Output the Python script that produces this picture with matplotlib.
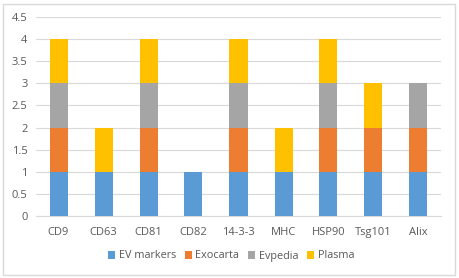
import matplotlib
matplotlib.use("Agg")
import matplotlib.pyplot as plt
import numpy as np

categorias = ["CD9", "CD63", "CD81", "CD82", "14-3-3", "MHC", "HSP90", "Tsg101", "Alix"]
series = ["EV markers", "Exocarta", "Evpedia", "Plasma"]
ev_markers = [1, 1, 1, 1, 1, 1, 1, 1, 1]
exocarta = [1, 0, 1, 0, 1, 0, 1, 1, 1]
evpedia = [1, 0, 1, 0, 1, 0, 1, 0, 1]
plasma = [1, 1, 1, 0, 1, 1, 1, 1, 0]
colores = ["#5B9BD5", "#ED7D31", "#A5A5A5", "#FFC000"]

plt.rcParams['font.family'] = ['Open Sans', 'DejaVu Sans']
gris = "#595959"

fig = plt.figure(figsize=(4.59, 2.78), dpi=100)
ax = fig.add_axes([36/459, 62/278, 405/459, 199/278])

x = np.arange(len(categorias))
base = np.zeros(len(categorias))
for nombre, valores, c in zip(series, [ev_markers, exocarta, evpedia, plasma], colores):
    ax.bar(x, valores, 0.4, bottom=base, color=c, label=nombre, zorder=3)
    base += np.array(valores)

ax.set_xlim(-0.5, len(categorias) - 0.5)
ax.set_ylim(0, 4.5)
ax.set_yticks(np.arange(0, 4.51, 0.5))
ax.set_yticklabels(["0", "0.5", "1", "1.5", "2", "2.5", "3", "3.5", "4", "4.5"])
ax.set_xticks(x)
ax.set_xticklabels(categorias)
ax.grid(axis='y', color="#D9D9D9", linewidth=0.8, zorder=0)
for s in ["top", "right", "left"]:
    ax.spines[s].set_visible(False)
ax.spines["bottom"].set_color("#D9D9D9")
ax.tick_params(axis='both', length=0, colors=gris, labelsize=8)
ax.tick_params(axis='x', pad=8)
ax.tick_params(axis='y', pad=6)

ax.legend(loc='center', bbox_to_anchor=(231/459, 22/278), bbox_transform=fig.transFigure,
          ncol=4, frameon=False, fontsize=7.8, labelcolor=gris, handlelength=0.7,
          handleheight=0.7, handletextpad=0.3, columnspacing=0.8)

borde = plt.Rectangle((3/459, 3/278), 452/459, 271/278, transform=fig.transFigure,
                      fill=False, edgecolor="#D9D9D9", linewidth=1)
fig.patches.append(borde)

fig.savefig("out.png", dpi=100)
